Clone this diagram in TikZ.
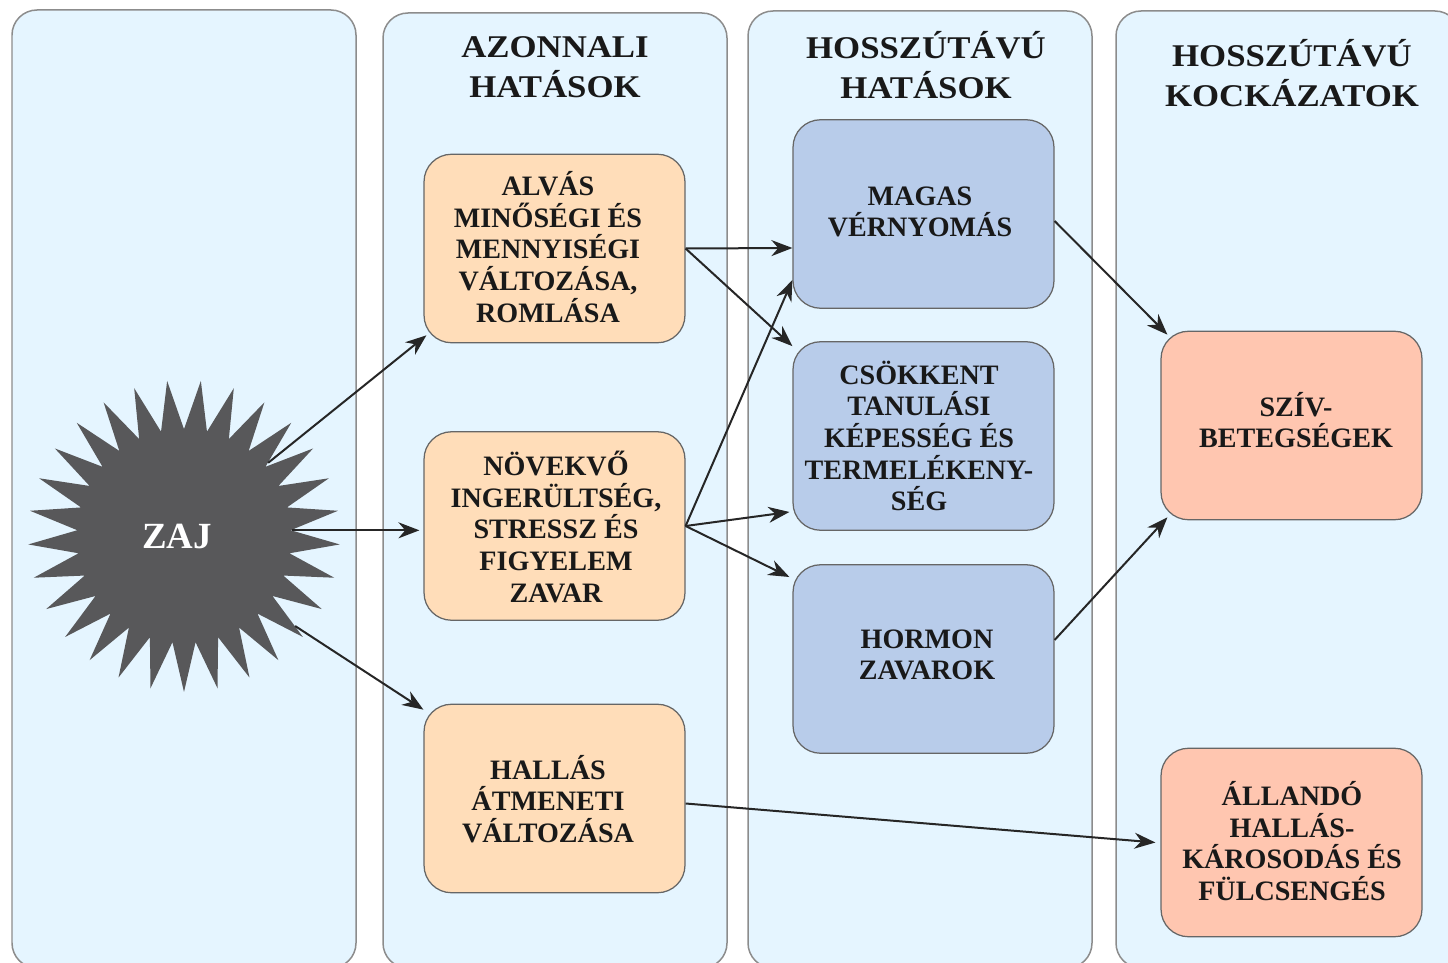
\documentclass[tikz,border=0pt]{standalone}
\usepackage{fontspec}
\setmainfont{Liberation Serif}
\newfontfamily\widefont[FakeStretch=1.1]{Liberation Serif}
\usetikzlibrary{shapes.geometric,arrows.meta}
\definecolor{panelcol}{HTML}{E5F5FF}
\definecolor{orangecol}{HTML}{FFDDB9}
\definecolor{bluecol}{HTML}{B8CCEA}
\definecolor{redcol}{HTML}{FFC6B0}
\definecolor{starcol}{HTML}{58585A}
\tikzset{
	panel/.style={draw=black!45, line width=0.3mm, fill=panelcol, rounded corners=0.5cm},
	box/.style={draw=black!60, line width=0.25mm, rounded corners=0.55cm, minimum width=5.22cm, minimum height=3.77cm},
	boxtext/.style={font=\fontsize{16}{18}\selectfont\bfseries, align=center, inner sep=0pt, text=black!90},
	title/.style={font=\widefont\fontsize{18}{23}\selectfont\bfseries, align=center, inner sep=0pt, text=black!90},
	arrow/.style={black!85, line width=0.4mm, -{Stealth[length=4.2mm,width=3.2mm]}}
}
\begin{document}
\begin{tikzpicture}[x=0.02cm, y=-0.02cm]
\useasboundingbox (0,0) rectangle (1448,963);
% oszlopok
\foreach \x/\t in {12/10,383/13,748/11,1116/11}{
	\draw[panel](\x,\t) rectangle (\x+344,968);
}
\node[title] (titleA) at (555,67) {AZONNALI\\HATÁSOK};
\node[title] (titleB) at (926,65) {HOSSZÚTÁVÚ\\HATÁSOK};
\node[title] (titleC) at (1292,73) {HOSSZÚTÁVÚ\\KOCKÁZATOK};
% zaj
\node[star, star points=29, star point ratio=1.46, shape border rotate=180, minimum size=6.24cm, inner sep=0pt, fill=starcol] (zaj) at (184,536) {};
\node[font=\fontsize{21}{24}\selectfont\bfseries, text=white, inner sep=0pt] (zajtext) at (177,536) {ZAJ};
% dobozok
\node[box, fill=orangecol] (alvas) at (554.5,248.5) {};
\node[box, fill=orangecol] (novekvo) at (554.5,526) {};
\node[box, fill=orangecol] (hallas) at (554.5,798.5) {};
\node[box, fill=bluecol] (magas) at (923.5,214) {};
\node[box, fill=bluecol] (csokkent) at (923.5,436) {};
\node[box, fill=bluecol] (hormon) at (923.5,659) {};
\node[box, fill=redcol] (sziv) at (1291.5,425.5) {};
\node[box, fill=redcol] (allando) at (1291.5,842.5) {};
% szovegek
\node[boxtext] (alvastext) at (548,247) {ALVÁS\\MINŐSÉGI ÉS\\MENNYISÉGI\\VÁLTOZÁSA,\\ROMLÁSA};
\node[boxtext] (novekvotext) at (556,527) {NÖVEKVŐ\\INGERÜLTSÉG,\\STRESSZ ÉS\\FIGYELEM\\ZAVAR};
\node[boxtext] (hallastext) at (548,799) {HALLÁS\\ÁTMENETI\\VÁLTOZÁSA};
\node[boxtext] (magastext) at (920,212) {MAGAS\\VÉRNYOMÁS};
\node[boxtext] (csokkenttext) at (919,436) {CSÖKKENT\\TANULÁSI\\KÉPESSÉG ÉS\\TERMELÉKENY-\\SÉG};
\node[boxtext] (hormontext) at (927,655) {HORMON\\ZAVAROK};
\node[boxtext] (szivtext) at (1296,420) {SZÍV-\\BETEGSÉGEK};
\node[boxtext] (allandotext) at (1292,841) {ÁLLANDÓ\\HALLÁS-\\KÁROSODÁS ÉS\\FÜLCSENGÉS};
% nyilak
\draw[arrow](zaj.41)--([xshift=0.06cm,yshift=0.16cm]alvas.south west);
\draw[arrow](zaj.3)--([xshift=-0.08cm]novekvo.west |- zaj.3);
\draw[arrow](zaj.-39)--([yshift=-0.12cm]hallas.north west);
\draw[arrow](alvas.east)--([yshift=-0.68cm]magas.west);
\draw[arrow](alvas.east)--([yshift=-0.1cm]csokkent.north west);
\draw[arrow](novekvo.east)--([yshift=-1.32cm]magas.west);
\draw[arrow](novekvo.east)--([xshift=-0.06cm,yshift=-1.52cm]csokkent.west);
\draw[arrow](novekvo.east)--([xshift=-0.06cm,yshift=1.64cm]hormon.west);
\draw[arrow]([yshift=-0.14cm]magas.east)--([xshift=0.14cm,yshift=-0.08cm]sziv.north west);
\draw[arrow]([yshift=0.38cm]hormon.east)--([xshift=0.14cm,yshift=0.06cm]sziv.south west);
\draw[arrow]([yshift=-0.1cm]hallas.east)--([xshift=-0.1cm]allando.west);
\end{tikzpicture}
\end{document}
